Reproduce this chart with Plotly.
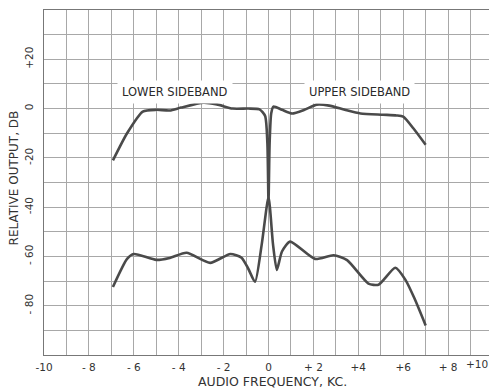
#!/usr/bin/env python3
"""
Sideband response: relative output vs audio frequency for the
upper/lower sideband filter, plus the rejected-sideband curve.
"""
import plotly.graph_objects as go

# pass-band curve (kc, dB)
pass_kc = [-6.93, -6.3, -5.6, -5.0, -4.4, -3.9, -2.9, -2.3, -1.6, -0.9, -0.4,
           -0.15, -0.05, 0.0, 0.05, 0.12, 0.22, 0.6, 1.05, 1.6, 2.15, 2.7, 3.4,
           4.1, 5.1, 5.7, 6.0, 6.45, 7.0]
pass_db = [-21.0, -10.0, -1.2, -0.5, -0.8, 0.4, 2.4, 1.7, 0.0, 0.0, -0.3,
           -3.0, -14.0, -38.0, -14.0, -2.0, 0.8, -0.5, -2.0, -0.5, 1.6, 1.2, -0.5,
           -2.0, -2.5, -2.8, -3.3, -8.0, -14.7]

# rejected-sideband curve (kc, dB)
rej_kc = [-6.93, -6.3, -6.0, -5.0, -4.4, -3.65, -2.6, -1.7, -1.2, -0.9, -0.6,
          -0.3, 0.0, 0.2, 0.37, 0.6, 0.96, 2.07, 2.9, 3.5, 4.45, 4.9, 5.65,
          6.1, 6.5, 7.0]
rej_db = [-72.4, -61.0, -59.0, -61.4, -60.6, -58.5, -62.6, -59.0, -60.5, -65.0, -70.3,
          -55.0, -36.0, -55.0, -65.5, -58.0, -54.0, -61.0, -59.5, -61.5, -71.0, -71.5, -64.6,
          -69.5, -77.0, -88.0]

x_ticks = [-10, -8, -6, -4, -2, 0, 2, 4, 6, 8]
x_labels = ["-10", "- 8", "- 6", "- 4", "- 2", "0", "+ 2", "+4", "+6", "+ 8"]
x_last_label = "+10"   # drawn separately so it sits inside the page edge
y_ticks = [-80, -60, -40, -20, 0, 20]
y_labels = ["- 80", "- 60", "-40", "-20", "0", "+20"]

LINE = "#4a4a4a"
GRID = "#a8a8a8"
FONT = "DejaVu Sans"

fig = go.Figure()
for xs, ys in [(pass_kc, pass_db), (rej_kc, rej_db)]:
    fig.add_trace(go.Scatter(
        x=xs, y=ys, mode="lines",
        line=dict(color=LINE, width=2.6, shape="spline", smoothing=0.6),
        showlegend=False, hoverinfo="skip"))

fig.add_annotation(x=-4.15, y=6.9, text="LOWER SIDEBAND", showarrow=False,
                   bgcolor="white", borderpad=4,
                   font=dict(family=FONT, size=11.5, color="#2a2a2a"))
fig.add_annotation(x=4.05, y=6.9, text="UPPER SIDEBAND", showarrow=False,
                   bgcolor="white", borderpad=4,
                   font=dict(family=FONT, size=11.5, color="#2a2a2a"))

fig.add_annotation(x=1, y=0, xref="paper", yref="paper", xanchor="right", yanchor="top",
                   xshift=-3, yshift=-1, text=x_last_label, showarrow=False,
                   font=dict(family=FONT, size=10.5, color="#333"))

# axis titles as annotations so the plot area stays put
fig.add_annotation(x=0.508, y=-0.077, xref="paper", yref="paper",
                   xanchor="center", yanchor="middle",
                   text="AUDIO FREQUENCY, KC.", showarrow=False,
                   font=dict(family=FONT, size=12.5, color="#333"))
fig.add_annotation(x=-0.066, y=0.513, xref="paper", yref="paper",
                   xanchor="center", yanchor="middle",
                   text="RELATIVE OUTPUT, DB", showarrow=False, textangle=-90,
                   font=dict(family=FONT, size=12, color="#333"))

fig.update_xaxes(
    range=[-10, 10], tickvals=x_ticks, ticktext=x_labels, automargin=False,
    showgrid=True, gridcolor=GRID, gridwidth=1,
    minor=dict(dtick=1, tick0=0, showgrid=True, gridcolor=GRID, gridwidth=1),
    zeroline=False, showline=True, linecolor="#777", linewidth=1.2, mirror=True,
    ticks="", ticklabelstandoff=2, ticklabeloverflow="allow",
    tickfont=dict(family=FONT, size=10.5, color="#333"))
fig.update_yaxes(
    range=[-100, 40], tickvals=y_ticks, ticktext=y_labels, tickangle=-90, automargin=False,
    showgrid=True, gridcolor=GRID, gridwidth=1,
    minor=dict(dtick=10, tick0=0, showgrid=True, gridcolor=GRID, gridwidth=1),
    zeroline=False, showline=True, linecolor="#777", linewidth=1.2, mirror=True,
    ticks="", ticklabelstandoff=6, ticklabeloverflow="allow",
    tickfont=dict(family=FONT, size=10.5, color="#333"))

# page body adds an 8px offset, so the figure is drawn 8px smaller
fig.update_layout(
    width=489, height=380,
    margin=dict(l=36, r=4, t=2, b=33, autoexpand=False),
    plot_bgcolor="white", paper_bgcolor="white",
)

fig.write_html("out.html")
